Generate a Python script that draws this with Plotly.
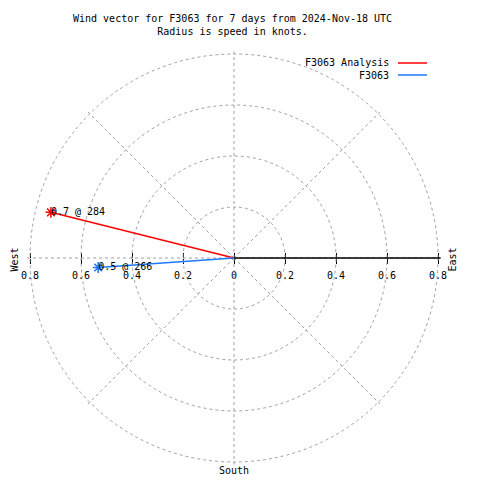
import plotly.graph_objects as go

# ---- data ----
series_names = ["F3063 Analysis", "F3063"]
speeds = [0.74, 0.534]          # knots
directions = [284, 266]         # degrees (compass)
series_colors = ["#ff0000", "#1e78ff"]
ring_vals = [0.2, 0.4, 0.6, 0.8]
x_tick_vals = [-0.8, -0.6, -0.4, -0.2, 0, 0.2, 0.4, 0.6, 0.8]
x_tick_text = ["0.8", "0.6", "0.4", "0.2", "0", "0.2", "0.4", "0.6", "0.8"]
title_lines = ["Wind vector for F3063 for 7 days from 2024-Nov-18 UTC",
               "Radius is speed in knots."]

W = H = 480
FONT = "DejaVu Sans Mono"
GRID = "#a0a0a0"
DASH = "3px,3px"

def px(x):
    return x / W

def py(y):
    return 1 - y / H

CX, CY = 234, 258        # centre of the rose, pixels
R08 = 204                # pixel radius of the 0.8 ring
RMAX = 0.81              # axis range slightly beyond the outer ring
RPX = R08 * RMAX / 0.8   # pixel radius of the polar domain

fig = go.Figure()

for name, s, d, c in zip(series_names, speeds, directions, series_colors):
    fig.add_trace(go.Scatterpolar(
        r=[0, s], theta=[d, d], mode="lines",
        line=dict(color=c, width=1.5), showlegend=False, hoverinfo="skip"))
    fig.add_trace(go.Scatterpolar(
        r=[s], theta=[d], mode="markers",
        marker=dict(symbol="asterisk-open", size=9,
                    line=dict(color=c, width=1.5), color=c),
        showlegend=False, name=name))
    fig.add_trace(go.Scatterpolar(
        r=[s], theta=[d], mode="text",
        text=[f"{s:.1f} @ {d:.0f}"], textposition="middle right",
        textfont=dict(family=FONT, size=10, color="black"),
        marker=dict(size=2),
        showlegend=False, hoverinfo="skip"))

# invisible anchors so the cartesian label axes are drawn
fig.add_trace(go.Scatter(x=x_tick_vals, y=[0] * len(x_tick_vals), mode="markers",
                         marker=dict(opacity=0), hoverinfo="skip", showlegend=False))
fig.add_trace(go.Scatter(x=x_tick_vals, y=[0] * len(x_tick_vals), xaxis="x2", mode="markers",
                         marker=dict(opacity=0), hoverinfo="skip", showlegend=False))

dom_x = [px(CX - RPX), px(CX + RPX)]
dom_y = [py(CY + RPX), py(CY - RPX)]

fig.update_layout(
    width=W, height=H, autosize=False,
    margin=dict(l=0, r=0, t=0, b=0, pad=0, autoexpand=False),
    paper_bgcolor="white", plot_bgcolor="rgba(0,0,0,0)",
    showlegend=False,
    font=dict(family=FONT, size=10, color="black"),
    polar=dict(
        domain=dict(x=dom_x, y=dom_y),
        bgcolor="rgba(0,0,0,0)",
        radialaxis=dict(range=[0, RMAX], angle=0, tickvals=ring_vals,
                        showticklabels=False, ticks="",
                        showline=True, linecolor="black", linewidth=1.5,
                        showgrid=True, gridcolor=GRID, griddash=DASH, gridwidth=1),
        angularaxis=dict(rotation=90, direction="clockwise",
                         tickvals=[0, 45, 90, 135, 180, 225, 270, 315],
                         showticklabels=False, ticks="",
                         showline=False,
                         showgrid=True, gridcolor=GRID, griddash=DASH, gridwidth=1),
    ),
    xaxis=dict(domain=dom_x, range=[-RMAX, RMAX],
               anchor="free", position=py(CY), automargin=False,
               tickvals=x_tick_vals, ticktext=x_tick_text,
               ticks="outside", ticklen=5, tickcolor="black", tickwidth=1,
               ticklabelstandoff=3,
               showline=False, showgrid=False, zeroline=False,
               tickfont=dict(family=FONT, size=10, color="black"), fixedrange=True),
    xaxis2=dict(domain=dom_x, range=[-RMAX, RMAX],
                anchor="free", position=py(CY), overlaying="x", automargin=False,
                tickvals=x_tick_vals, showticklabels=False,
                ticks="inside", ticklen=5, tickcolor="black", tickwidth=1,
                showline=False, showgrid=False, zeroline=False, fixedrange=True),
    yaxis=dict(domain=dom_y, range=[-1, 1], visible=False,
               automargin=False, fixedrange=True),
)

annotations = [
    dict(text="<br>".join(title_lines), x=px(232), y=py(11), xref="paper", yref="paper",
         xanchor="center", yanchor="top", showarrow=False,
         font=dict(family=FONT, size=10, color="black")),
    dict(text="West", x=px(6), y=py(260), xref="paper", yref="paper", textangle=-90,
         showarrow=False, font=dict(family=FONT, size=10, color="black")),
    dict(text="East", x=px(459), y=py(260), xref="paper", yref="paper", textangle=-90,
         showarrow=False, font=dict(family=FONT, size=10, color="black")),
    dict(text="South", x=px(234), y=py(478), xref="paper", yref="paper",
         showarrow=False, font=dict(family=FONT, size=10, color="black")),
]
shapes = []
for i, (name, c) in enumerate(zip(series_names, series_colors)):
    ly = 63 + 12 * i
    annotations.append(dict(text=name, x=px(391), y=py(ly), xref="paper", yref="paper",
                            xanchor="right", yanchor="middle", showarrow=False,
                            font=dict(family=FONT, size=10, color="black")))
    shapes.append(dict(type="line", xref="paper", yref="paper",
                       x0=px(398), x1=px(427), y0=py(ly), y1=py(ly),
                       line=dict(color=c, width=1.5)))

fig.update_layout(annotations=annotations, shapes=shapes)

fig.write_html("out.html", config={"displayModeBar": False},
               post_script="document.body.style.margin='0';document.body.style.overflow='hidden';")
